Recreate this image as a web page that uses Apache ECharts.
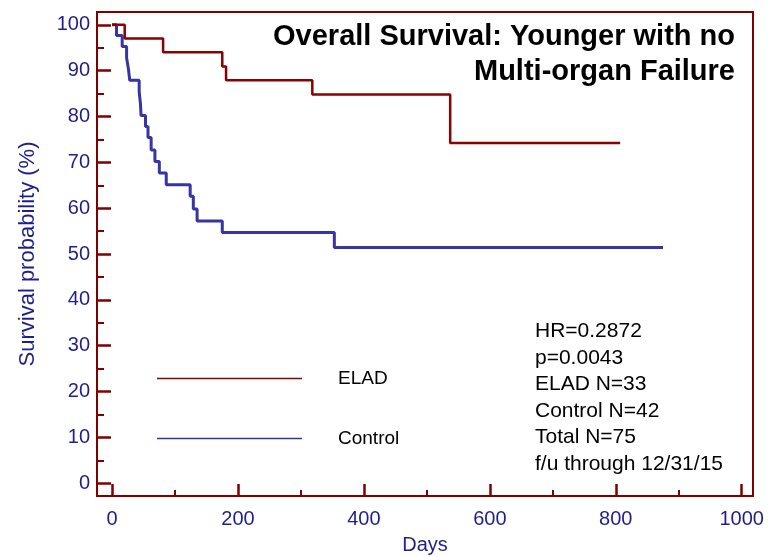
<!DOCTYPE html>
<html>
<head>
<meta charset="utf-8">
<script src="https://cdn.jsdelivr.net/npm/echarts@6/dist/echarts.min.js"></script>
<style>
  html, body { margin: 0; padding: 0; background: #fff; }
  #chart { width: 771px; height: 557px; }
</style>
</head>
<body>
<div id="chart"></div>
<script>
// values
const xTicks = [0, 200, 400, 600, 800, 1000]
const xMinorTicks = [100, 300, 500, 700, 900]
const yTicks = [0, 10, 20, 30, 40, 50, 60, 70, 80, 90, 100]
const yMinorTicks = [5, 15, 25, 35, 45, 55, 65, 75, 85, 95]

// Kaplan-Meier steps: [day, survival %]
const eladSteps = [
  [0, 100], [20, 97.0], [81, 94.0], [175, 90.9], [181, 87.9],
  [318, 84.8], [537, 74.2], [807, 74.2]
]
const controlSteps = [
  [0, 100], [7, 97.7], [16, 95.3], [23, 92.8], [26, 90.3], [28, 87.9],
  [43, 85.4], [45, 82.8], [46, 80.2], [53, 77.8], [57, 75.4], [62, 72.7],
  [68, 70.2], [75, 67.7], [86, 65.1], [124, 62.6], [129, 59.8], [135, 57.2],
  [175, 54.7], [353, 51.4], [875, 51.4]
]

const titleLines = ['Overall Survival: Younger with no', 'Multi-organ Failure']
const statLines = ['HR=0.2872', 'p=0.0043', 'ELAD N=33', 'Control N=42', 'Total N=75', 'f/u through 12/31/15']

const font = 'Liberation Sans, Arial, sans-serif'
const frame = '#800000'
const navy = '#1f1f8c'

const chart = echarts.init(document.getElementById('chart'))

const option = {
  animation: false,
  grid: {
    left: 97, right: 18, top: 12, bottom: 61,
    outerBoundsMode: 'none',
    show: true, borderColor: frame, borderWidth: 2
  },
  legend: {
    orient: 'vertical',
    left: 157,
    top: 369,
    padding: 0,
    itemWidth: 145,
    itemHeight: 1.5,
    itemGap: 41,
    icon: 'rect',
    textStyle: { fontFamily: font, fontSize: 19, color: '#000', padding: [0, 0, 0, 31] },
    data: ['ELAD', 'Control']
  },
  xAxis: [
    {
      type: 'value', min: -24, max: 1018,
      name: 'Days', nameLocation: 'middle', nameGap: 39,
      nameTextStyle: { fontFamily: font, fontSize: 20, color: navy },
      axisLine: { show: true, onZero: false, lineStyle: { color: frame, width: 2 } },
      axisTick: { show: true, inside: true, length: 12, customValues: xTicks, lineStyle: { color: frame, width: 2.5 } },
      axisLabel: { customValues: xTicks, margin: 13, fontFamily: font, fontSize: 20, color: navy, formatter: v => String(v) },
      splitLine: { show: false }
    },
    {
      type: 'value', min: -24, max: 1018, position: 'bottom',
      axisLine: { show: false, onZero: false },
      axisTick: { show: true, inside: true, length: 6, customValues: xMinorTicks, lineStyle: { color: frame, width: 2 } },
      axisLabel: { show: false },
      splitLine: { show: false }
    }
  ],
  yAxis: [
    {
      type: 'value', min: -2.8, max: 102.8,
      name: 'Survival probability (%)', nameLocation: 'middle', nameGap: 58,
      nameTextStyle: { fontFamily: font, fontSize: 22, color: navy },
      axisLine: { show: true, onZero: false, lineStyle: { color: frame, width: 2 } },
      axisTick: { show: true, inside: true, length: 14, customValues: yTicks, lineStyle: { color: frame, width: 2.5 } },
      axisLabel: { customValues: yTicks, margin: 7, fontFamily: font, fontSize: 20, color: navy },
      splitLine: { show: false }
    },
    {
      type: 'value', min: -2.8, max: 102.8, position: 'left',
      axisLine: { show: false, onZero: false },
      axisTick: { show: true, inside: true, length: 7, customValues: yMinorTicks, lineStyle: { color: frame, width: 2 } },
      axisLabel: { show: false },
      splitLine: { show: false }
    }
  ],
  graphic: [
    {
      type: 'text', x: 735, y: 19,
      style: {
        text: titleLines.join('\n'), align: 'right', verticalAlign: 'top',
        font: 'bold 29px ' + font, lineHeight: 35, fill: '#000'
      }
    },
    {
      type: 'text', x: 535, y: 318,
      style: {
        text: statLines.join('\n'), align: 'left', verticalAlign: 'top',
        font: '21px ' + font, lineHeight: 26.5, fill: '#000'
      }
    }
  ],
  series: [
    {
      name: 'ELAD', type: 'line', step: 'end', data: eladSteps,
      showSymbol: false, color: '#8b0000',
      lineStyle: { width: 2.5, color: '#8b0000' }, z: 3
    },
    {
      name: 'Control', type: 'line', step: 'end', data: controlSteps,
      showSymbol: false, color: '#3535a5',
      lineStyle: { width: 3, color: '#3535a5' }, z: 2
    }
  ]
}

chart.setOption(option)
</script>
</body>
</html>
